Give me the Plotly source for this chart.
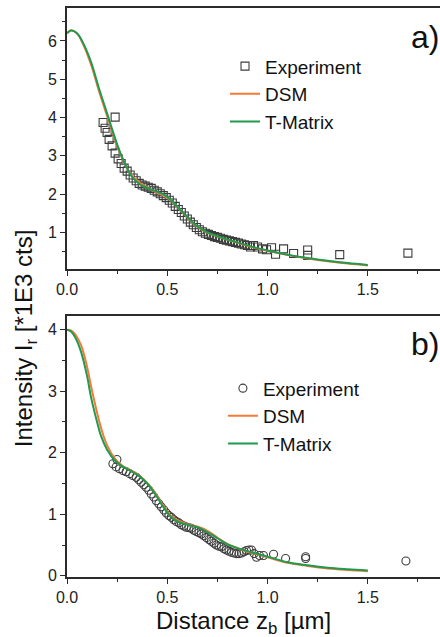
import plotly.graph_objects as go
from plotly.subplots import make_subplots

# panel a) - experiment (squares)
exp_a_x = [0.18, 0.24, 0.19, 0.20, 0.21, 0.225, 0.24, 0.255, 0.27, 0.285, 0.30, 0.315, 0.33,
           0.345, 0.36, 0.375, 0.39, 0.405, 0.42, 0.435, 0.45, 0.465, 0.48, 0.495, 0.51,
           0.525, 0.54, 0.555, 0.57, 0.585, 0.60, 0.615, 0.63, 0.645, 0.66, 0.675, 0.69,
           0.705, 0.72, 0.735, 0.75, 0.765, 0.78, 0.795, 0.81, 0.825, 0.84, 0.855, 0.87,
           0.885, 0.90, 0.915, 0.93, 0.95, 0.975, 0.995, 1.02, 1.04, 1.08, 1.13, 1.20,
           1.20, 1.36, 1.70]
exp_a_y = [3.87, 4.01, 3.72, 3.61, 3.43, 3.26, 3.07, 2.92, 2.80, 2.68, 2.60, 2.50, 2.42,
           2.35, 2.28, 2.24, 2.21, 2.18, 2.15, 2.10, 2.06, 2.01, 1.96, 1.91, 1.84,
           1.77, 1.68, 1.60, 1.52, 1.43, 1.35, 1.27, 1.20, 1.13, 1.07, 1.02, 0.98,
           0.95, 0.92, 0.89, 0.87, 0.85, 0.82, 0.80, 0.78, 0.76, 0.74, 0.72, 0.70,
           0.68, 0.66, 0.62, 0.66, 0.62, 0.57, 0.55, 0.60, 0.43, 0.57, 0.45, 0.54,
           0.40, 0.42, 0.46]

# panel a) - simulations
sim_a_x = [0.0, 0.02, 0.05, 0.08, 0.12, 0.16, 0.19, 0.22, 0.25, 0.28, 0.32, 0.36, 0.40,
           0.44, 0.48, 0.52, 0.56, 0.60, 0.64, 0.68, 0.72, 0.78, 0.85, 0.92, 1.0, 1.1,
           1.2, 1.3, 1.4, 1.5]
dsm_a = [6.20, 6.28, 6.19, 5.92, 5.38, 4.68, 4.20, 3.72, 3.26, 2.88, 2.50, 2.31, 2.18,
         2.06, 1.97, 1.83, 1.61, 1.39, 1.19, 1.05, 0.95, 0.84, 0.73, 0.62, 0.52, 0.41,
         0.32, 0.25, 0.19, 0.14]
tmat_a = [6.20, 6.27, 6.20, 5.95, 5.45, 4.75, 4.27, 3.78, 3.30, 2.90, 2.48, 2.27, 2.16,
          2.08, 2.00, 1.84, 1.62, 1.40, 1.20, 1.06, 0.96, 0.85, 0.74, 0.63, 0.53, 0.42,
          0.33, 0.26, 0.20, 0.15]

# panel b) - experiment (circles)
exp_b_x = [0.229, 0.245, 0.249, 0.262, 0.279, 0.295, 0.312, 0.328, 0.345, 0.358, 0.37,
           0.383, 0.395, 0.408, 0.42, 0.433, 0.445, 0.458, 0.47, 0.483, 0.495, 0.508,
           0.52, 0.533, 0.545, 0.558, 0.57, 0.583, 0.595, 0.608, 0.62, 0.633, 0.645,
           0.658, 0.67, 0.683, 0.695, 0.708, 0.72, 0.733, 0.745, 0.758, 0.77, 0.783,
           0.795, 0.808, 0.82, 0.833, 0.845, 0.858, 0.87, 0.883, 0.895, 0.908, 0.92,
           0.933, 0.945, 0.96, 0.98, 1.03, 1.09, 1.19, 1.19, 1.69]
exp_b_y = [1.82, 1.77, 1.89, 1.74, 1.71, 1.69, 1.66, 1.63, 1.60, 1.56, 1.52, 1.48, 1.44,
           1.39, 1.33, 1.28, 1.22, 1.17, 1.12, 1.07, 1.02, 0.98, 0.95, 0.91, 0.88, 0.86,
           0.83, 0.81, 0.79, 0.78, 0.77, 0.74, 0.72, 0.70, 0.68, 0.65, 0.62, 0.59, 0.56,
           0.53, 0.50, 0.48, 0.47, 0.44, 0.42, 0.40, 0.38, 0.37, 0.36, 0.36, 0.37, 0.39,
           0.41, 0.42, 0.42, 0.36, 0.30, 0.33, 0.33, 0.35, 0.28, 0.31, 0.28, 0.24]

# panel b) - simulations
sim_b_x = [0.0, 0.02, 0.04, 0.07, 0.10, 0.12, 0.15, 0.17, 0.20, 0.24, 0.28, 0.32, 0.36,
           0.40, 0.44, 0.48, 0.52, 0.56, 0.60, 0.65, 0.70, 0.75, 0.80, 0.85, 0.90, 0.98,
           1.1, 1.2, 1.3, 1.4, 1.5]
dsm_b = [4.00, 3.99, 3.93, 3.75, 3.40, 3.08, 2.65, 2.40, 2.12, 1.90, 1.78, 1.71, 1.63,
         1.51, 1.35, 1.14, 0.97, 0.89, 0.84, 0.80, 0.73, 0.62, 0.52, 0.45, 0.39, 0.32,
         0.21, 0.16, 0.12, 0.095, 0.075]
tmat_b = [4.00, 3.97, 3.88, 3.64, 3.25, 2.90, 2.50, 2.27, 2.05, 1.87, 1.77, 1.70, 1.62,
          1.50, 1.33, 1.12, 0.95, 0.87, 0.83, 0.79, 0.71, 0.61, 0.51, 0.45, 0.40, 0.33,
          0.22, 0.17, 0.13, 0.105, 0.085]

FONT = 'Liberation Sans, Arial, sans-serif'
AXIS_COLOR = '#2b2b2b'
MARKER_COLOR = '#3c3c3c'
ORANGE = '#f47a3a'
GREEN = '#1f9a4e'

fig = make_subplots(rows=2, cols=1)

for row, legend, ex, ey, sym, sx, dsm, tmat in [
        (1, 'legend', exp_a_x, exp_a_y, 'square-open', sim_a_x, dsm_a, tmat_a),
        (2, 'legend2', exp_b_x, exp_b_y, 'circle-open', sim_b_x, dsm_b, tmat_b)]:
    fig.add_trace(go.Scatter(x=ex, y=ey, mode='markers', name='Experiment', legend=legend,
                             marker=dict(symbol=sym, size=8, color=MARKER_COLOR,
                                         line=dict(width=1.1, color=MARKER_COLOR))),
                  row=row, col=1)
    fig.add_trace(go.Scatter(x=sx, y=dsm, mode='lines', name='DSM', legend=legend,
                             line=dict(color=ORANGE, width=2, shape='spline')),
                  row=row, col=1)
    fig.add_trace(go.Scatter(x=sx, y=tmat, mode='lines', name='T-Matrix', legend=legend,
                             line=dict(color=GREEN, width=2, shape='spline')),
                  row=row, col=1)

xaxis_style = dict(range=[0, 1.86], dtick=0.5, tick0=0, tickformat='.1f',
                   ticks='outside', ticklen=5, tickwidth=1.2, tickcolor=AXIS_COLOR,
                   minor=dict(dtick=0.25, ticks='outside', ticklen=3, tickcolor=AXIS_COLOR),
                   showline=True, linecolor=AXIS_COLOR, linewidth=2, mirror=True,
                   showgrid=False, zeroline=False,
                   tickfont=dict(family=FONT, size=16, color='#222'))
yaxis_style = dict(dtick=1, tick0=0,
                   ticks='outside', ticklen=5, tickwidth=1.2, tickcolor=AXIS_COLOR,
                   minor=dict(dtick=0.5, ticks='outside', ticklen=3, tickcolor=AXIS_COLOR),
                   showline=True, linecolor=AXIS_COLOR, linewidth=2,
                   showgrid=False, zeroline=False,
                   tickfont=dict(family=FONT, size=16, color='#222'))

fig.update_layout(
    xaxis=dict(xaxis_style, domain=[0, 1], anchor='y'),
    xaxis2=dict(xaxis_style, domain=[0, 1], anchor='y2'),
    yaxis=dict(yaxis_style, range=[0.05, 6.86], domain=[0.5416, 1]),
    yaxis2=dict(yaxis_style, range=[-0.02, 4.22], domain=[0, 0.4584]),
)

legend_style = dict(xanchor='left', yanchor='top', bgcolor='rgba(0,0,0,0)',
                    font=dict(family=FONT, size=19, color='#111'),
                    tracegroupgap=0, itemwidth=30)
fig.update_layout(
    legend=dict(legend_style, x=0.4236, y=0.931),
    legend2=dict(legend_style, x=0.418, y=0.365),
)

fig.add_annotation(text='a)', xref='paper', yref='paper', x=0.918, y=0.949,
                   xanchor='left', yanchor='middle', showarrow=False,
                   font=dict(family=FONT, size=32, color='#111'))
fig.add_annotation(text='b)', xref='paper', yref='paper', x=0.918, y=0.41,
                   xanchor='left', yanchor='middle', showarrow=False,
                   font=dict(family=FONT, size=32, color='#111'))
fig.add_annotation(text='Intensity I<sub>r</sub> [*1E3 cts]', xref='paper', yref='paper',
                   x=-0.112, y=0.42, textangle=-90, showarrow=False,
                   xanchor='center', yanchor='middle',
                   font=dict(family=FONT, size=24, color='#111'))
fig.add_annotation(text='Distance z<sub>b</sub> [µm]', xref='paper', yref='paper',
                   x=0.474, y=-0.08, showarrow=False,
                   xanchor='center', yanchor='middle',
                   font=dict(family=FONT, size=24, color='#111'))

fig.update_layout(width=440, height=637, margin=dict(l=67, r=0, t=8, b=60),
                  plot_bgcolor='white', paper_bgcolor='white')

fig.write_html('out.html', config={'displayModeBar': False},
               post_script="document.body.style.margin='0';")
